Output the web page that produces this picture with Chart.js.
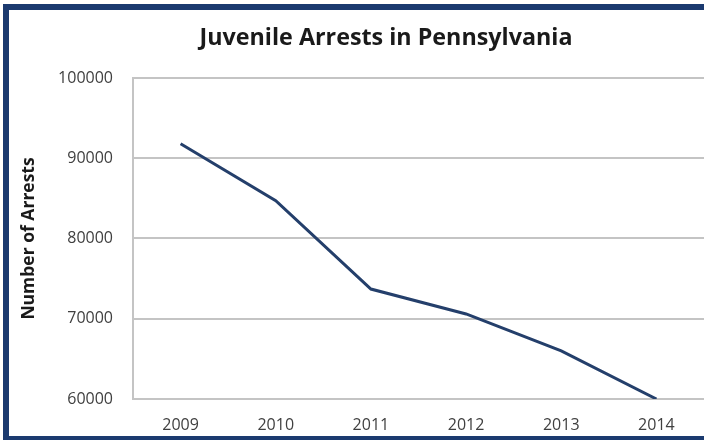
<!DOCTYPE html>
<html>
<head>
<meta charset="utf-8">
<script src="https://cdn.jsdelivr.net/npm/chart.js@4/dist/chart.umd.min.js"></script>
<style>
  html, body { margin: 0; padding: 0; background: #ffffff; overflow: hidden; width: 704px; height: 442px; }
  #frame { position: absolute; left: 3px; top: 4px; width: 800px; height: 426px; border: 6px solid #1b3a6f; border-bottom-width: 4px; border-right: none; background: #fff; }
  #wrap { position: absolute; left: 9px; top: 10px; width: 754px; height: 428px; }
</style>
</head>
<body>
<div id="frame"></div>
<div id="wrap"><canvas id="c" width="754" height="428"></canvas></div>
<script>
const categories = ["2009", "2010", "2011", "2012", "2013", "2014"];
const arrests = [91800, 84700, 73700, 70600, 66000, 60000];
const yTicks = [60000, 70000, 80000, 90000, 100000];
const chartTitle = "Juvenile Arrests in Pennsylvania";
const yAxisTitle = "Number of Arrests";

const FONT = "'Open Sans', 'Liberation Sans', sans-serif";

new Chart(document.getElementById('c'), {
  type: 'line',
  data: {
    labels: categories,
    datasets: [{
      data: arrests,
      borderColor: '#243f6b',
      borderWidth: 3,
      pointRadius: 0,
      tension: 0,
      fill: false
    }]
  },
  options: {
    responsive: false,
    animation: false,
    layout: { padding: 0 },
    plugins: {
      legend: { display: false },
      tooltip: { enabled: false },
      title: {
        display: true,
        text: chartTitle,
        color: '#1a1a1a',
        font: { family: FONT, size: 23.3, weight: 'bold', lineHeight: 1.2 },
        padding: { top: 14, bottom: 26 }
      }
    },
    scales: {
      x: {
        type: 'category',
        offset: true,
        grid: { display: false, drawTicks: false },
        border: { display: false },
        ticks: { color: '#404040', font: { family: FONT, size: 16 }, padding: 17, maxRotation: 0 },
        afterFit: (s) => { s.height = 39; }
      },
      y: {
        min: 60000,
        max: 100000,
        afterBuildTicks: (s) => { s.ticks = yTicks.map(v => ({ value: v })); },
        grid: { color: '#c4c4c4', lineWidth: 2, drawTicks: false },
        border: { display: true, color: '#c4c4c4', width: 2 },
        ticks: { color: '#404040', font: { family: FONT, size: 16 }, padding: 20, callback: (v) => String(v) },
        title: {
          display: true,
          text: yAxisTitle,
          color: '#1a1a1a',
          font: { family: FONT, size: 17.5, weight: 'bold', lineHeight: 1.2 },
          padding: { top: 10, bottom: 0 }
        },
        afterFit: (s) => { s.width = 124; }
      },
      spacer: {
        type: 'linear',
        position: 'right',
        display: true,
        grid: { display: false, drawTicks: false },
        border: { display: false },
        ticks: { display: false },
        afterFit: (s) => { s.width = 59; }
      }
    }
  }
});
</script>
</body>
</html>
